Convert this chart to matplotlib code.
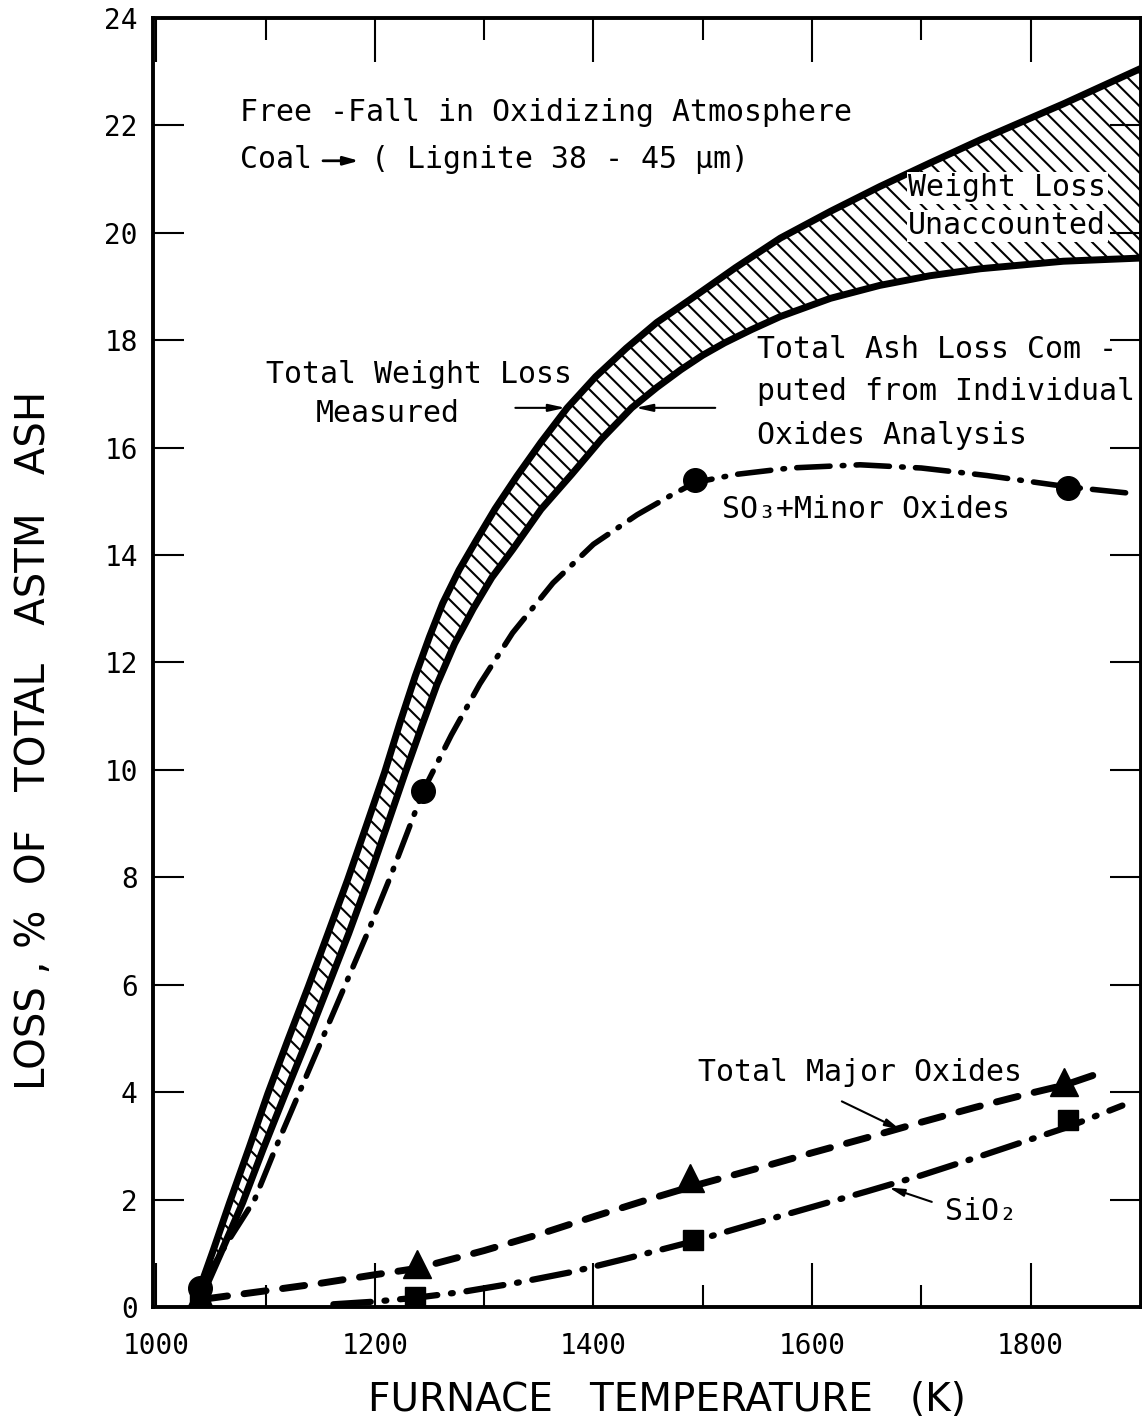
import matplotlib.pyplot as plt
import numpy as np

# Total weight loss measured (upper boundary of the band)
measured_T = [1037, 1052, 1067, 1085, 1102, 1120, 1139, 1157, 1175, 1192, 1209, 1223, 1237, 1250,
              1262, 1277, 1293, 1310, 1330, 1352, 1376, 1402, 1430, 1458, 1488, 1530, 1571, 1617,
              1662, 1708, 1754, 1830, 1902]
measured_loss = [0.19, 1.05, 1.94, 2.97, 3.97, 4.95, 5.96, 6.95, 7.95, 8.95, 9.96, 10.88, 11.75, 12.48,
                 13.1, 13.72, 14.28, 14.86, 15.47, 16.1, 16.74, 17.32, 17.85, 18.33, 18.75, 19.35, 19.9, 20.4,
                 20.86, 21.3, 21.73, 22.4, 23.07]

# Total ash loss computed from individual oxides (lower boundary of the band)
computed_T = [1040, 1060, 1079, 1098, 1118, 1138, 1157, 1176, 1194, 1211, 1228, 1243, 1257, 1273,
              1290, 1307, 1326, 1352, 1380, 1407, 1435, 1458, 1480, 1500, 1520, 1545, 1571, 1617,
              1662, 1708, 1754, 1830, 1902]
computed_loss = [0.13, 1.05, 1.94, 2.95, 3.97, 4.97, 5.96, 6.95, 7.95, 8.95, 9.96, 10.82, 11.6, 12.35,
                 13.0, 13.58, 14.1, 14.85, 15.5, 16.15, 16.74, 17.12, 17.45, 17.72, 17.95, 18.2, 18.44, 18.78,
                 19.02, 19.2, 19.33, 19.47, 19.53]

# SO3 + minor oxides
so3_T = [1040, 1065, 1090, 1110, 1131, 1152, 1173, 1194, 1214, 1230, 1244, 1270, 1296, 1326, 1363,
         1400, 1440, 1470, 1493, 1530, 1580, 1644, 1700, 1760, 1834, 1891]
so3_loss = [0.35, 1.2, 2.0, 3.0, 4.0, 5.0, 6.0, 7.0, 8.0, 8.85, 9.6, 10.65, 11.6, 12.55, 13.48,
            14.2, 14.75, 15.1, 15.35, 15.5, 15.62, 15.68, 15.62, 15.48, 15.27, 15.15]
so3_pts_T = [1040, 1244, 1493, 1834]
so3_pts = [0.35, 9.6, 15.4, 15.25]

# Total major oxides
major_T = [1045, 1100, 1150, 1200, 1239, 1300, 1350, 1400, 1450, 1491, 1550, 1600, 1650, 1700,
           1750, 1800, 1831, 1870]
major_loss = [0.15, 0.3, 0.44, 0.6, 0.72, 1.05, 1.35, 1.68, 2.0, 2.25, 2.58, 2.87, 3.15, 3.44,
              3.72, 3.98, 4.13, 4.4]
major_pts_T = [1040, 1239, 1488, 1831]
major_pts = [0.2, 0.8, 2.4, 4.18]

# SiO2
sio2_T = [1162, 1200, 1237, 1280, 1330, 1380, 1430, 1491, 1550, 1600, 1650, 1700, 1750, 1800,
          1834, 1884]
sio2_loss = [0.05, 0.1, 0.17, 0.28, 0.45, 0.65, 0.9, 1.22, 1.57, 1.86, 2.15, 2.45, 2.78, 3.12,
             3.35, 3.75]
sio2_pts_T = [1040, 1237, 1491, 1834]
sio2_pts = [0.05, 0.18, 1.25, 3.48]

plt.rcParams['font.family'] = ['DejaVu Sans Mono', 'DejaVu Sans']
plt.rcParams['hatch.linewidth'] = 1.5

fig = plt.figure(figsize=(11.42, 14.22), dpi=100)
ax = fig.add_axes([0.134, 0.0809, 0.8651, 0.9065])

# hatched band: weight loss unaccounted
band_x = np.r_[measured_T, computed_T[::-1]]
band_y = np.r_[measured_loss, computed_loss[::-1]]
ax.fill(band_x, band_y, facecolor='white', edgecolor='black', hatch='\\\\', linewidth=0, zorder=1)

ax.plot(measured_T, measured_loss, color='black', lw=5, solid_capstyle='round',
        solid_joinstyle='round', zorder=3)
ax.plot(computed_T, computed_loss, color='black', lw=5, solid_capstyle='round',
        solid_joinstyle='round', zorder=3)

dashdot = (0, (6, 2.2, 0.3, 2.2))
ax.plot(so3_T, so3_loss, color='black', lw=4, linestyle=dashdot, dash_capstyle='round', zorder=3)
ax.plot(so3_pts_T, so3_pts, 'o', color='black', ms=17, zorder=4)

ax.plot(major_T, major_loss, color='black', lw=5, linestyle=(0, (3.2, 2.4)),
        dash_capstyle='round', zorder=3)
ax.plot(major_pts_T, major_pts, '^', color='black', ms=20, zorder=4)

ax.plot(sio2_T, sio2_loss, color='black', lw=4.5, linestyle=dashdot, dash_capstyle='round', zorder=3)
ax.plot(sio2_pts_T, sio2_pts, 's', color='black', ms=15, zorder=4)

# annotations
fs = 21.5
ax.text(1077, 22.23, 'Free -Fall in Oxidizing Atmosphere', fontsize=fs, va='center', ha='left')
ax.text(1077, 21.36, 'Coal', fontsize=fs, va='center', ha='left')
ax.annotate('', xy=(1188, 21.34), xytext=(1150, 21.34),
            arrowprops=dict(arrowstyle='-|>,head_length=0.9,head_width=0.25', color='black', lw=2))
ax.text(1196, 21.36, '( Lignite 38 - 45 μm)', fontsize=fs, va='center', ha='left')

ax.text(1688, 20.84, 'Weight Loss', fontsize=fs, va='center', ha='left', zorder=5,
        bbox=dict(facecolor='white', edgecolor='none', pad=1))
ax.text(1688, 20.13, 'Unaccounted', fontsize=fs, va='center', ha='left', zorder=5,
        bbox=dict(facecolor='white', edgecolor='none', pad=1))

ax.text(1240, 17.36, 'Total Weight Loss', fontsize=fs, va='center', ha='center')
ax.text(1212, 16.63, 'Measured', fontsize=fs, va='center', ha='center')
ax.annotate('', xy=(1377, 16.74), xytext=(1326, 16.74),
            arrowprops=dict(arrowstyle='-|>,head_length=1.0,head_width=0.22', color='black', lw=1.5))
ax.annotate('', xy=(1436, 16.74), xytext=(1514, 16.74),
            arrowprops=dict(arrowstyle='-|>,head_length=1.0,head_width=0.22', color='black', lw=1.5))

ax.text(1550, 17.82, 'Total Ash Loss Com -', fontsize=fs, va='center', ha='left')
ax.text(1550, 17.04, 'puted from Individual', fontsize=fs, va='center', ha='left')
ax.text(1550, 16.22, 'Oxides Analysis', fontsize=fs, va='center', ha='left')

ax.text(1518, 14.84, 'SO₃+Minor Oxides', fontsize=fs, va='center', ha='left')

ax.text(1496, 4.36, 'Total Major Oxides', fontsize=fs, va='center', ha='left')
ax.annotate('', xy=(1683, 3.28), xytext=(1625, 3.85),
            arrowprops=dict(arrowstyle='-|>,head_length=0.9,head_width=0.22', color='black', lw=1.5))
ax.text(1722, 1.77, 'SiO₂', fontsize=fs, va='center', ha='left')
ax.annotate('', xy=(1668, 2.24), xytext=(1712, 1.94),
            arrowprops=dict(arrowstyle='-|>,head_length=0.9,head_width=0.22', color='black', lw=1.5))

# axes
ax.set_xlim(997, 1901)
ax.set_ylim(0, 24)
ax.set_xticks(np.arange(1000, 1900, 200))
ax.set_xticks(np.arange(1100, 1900, 200), minor=True)
ax.set_yticks(np.arange(0, 25, 2))
ax.tick_params(axis='x', which='major', direction='in', top=True, length=32, width=1.5,
               labelsize=20, pad=18)
ax.tick_params(axis='x', which='minor', direction='in', top=True, length=16, width=1.5)
ax.tick_params(axis='y', direction='in', right=True, length=22, width=1.5, labelsize=20, pad=11)
for sp in ax.spines.values():
    sp.set_linewidth(2.8)

fig.text(0.584, 0.0155, 'FURNACE   TEMPERATURE   (K)', fontsize=28, ha='center', va='center',
         family='DejaVu Sans')
fig.text(0.030, 0.4796, 'LOSS , %  OF   TOTAL   ASTM   ASH', fontsize=29, ha='center', va='center',
         rotation=90, family='DejaVu Sans')

fig.savefig('out.png', dpi=100)
